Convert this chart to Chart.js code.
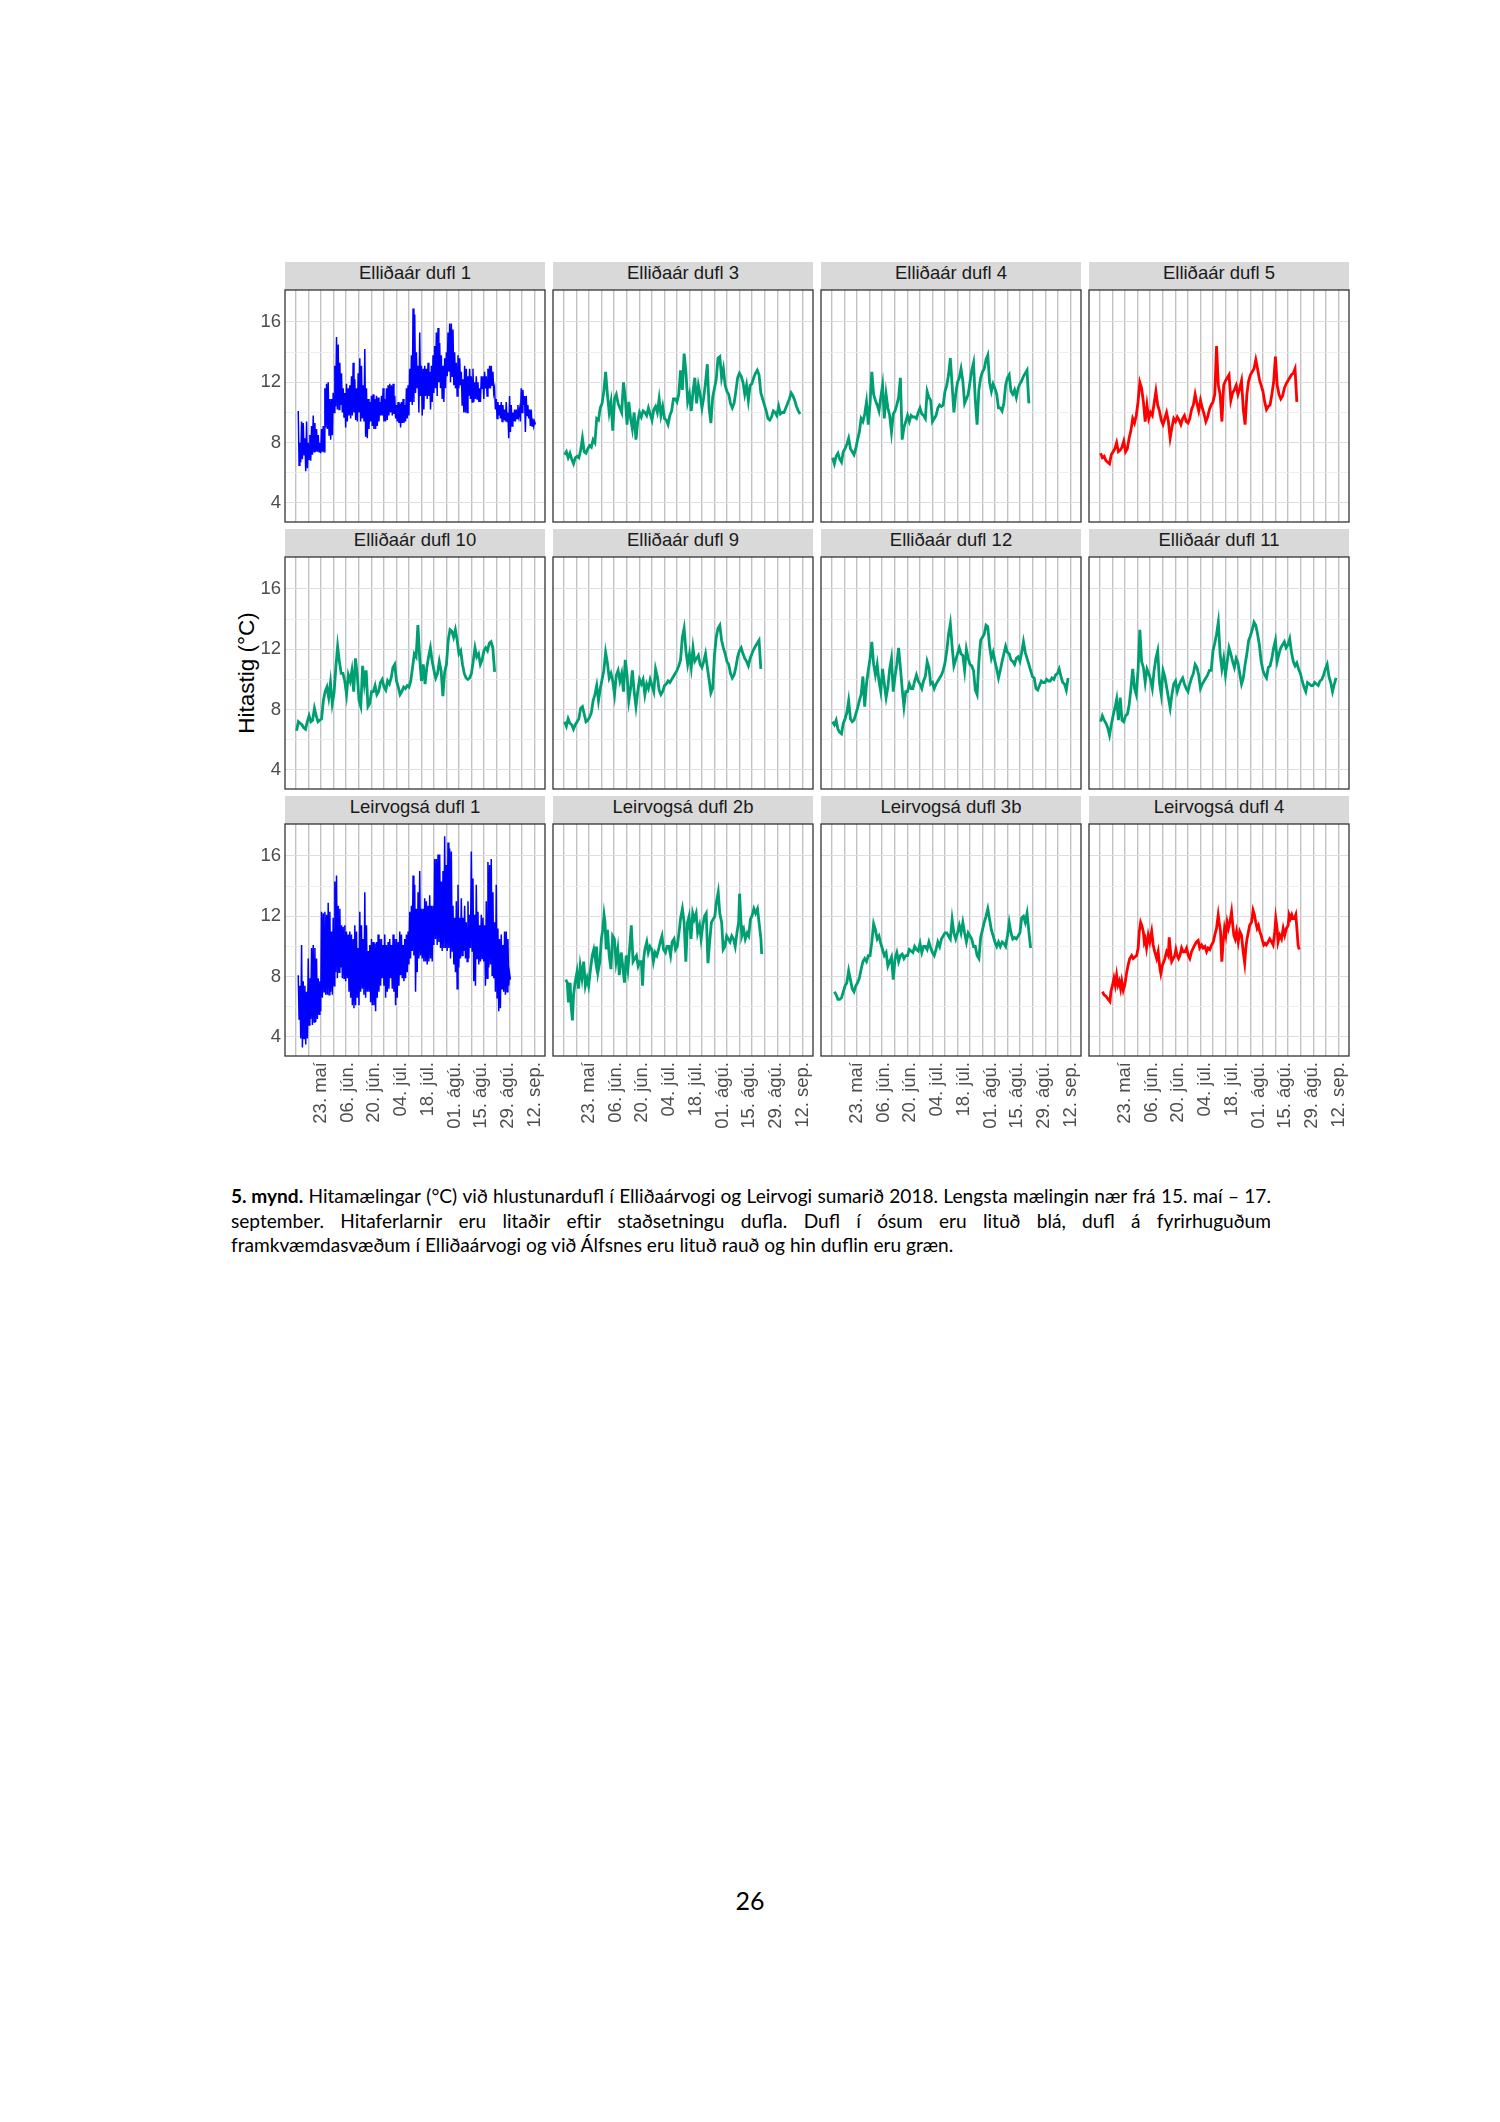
<!DOCTYPE html>
<html lang="is">
<head>
<meta charset="utf-8">
<title>Hitamælingar við hlustunardufl 2018</title>
<script src="https://cdn.jsdelivr.net/npm/chart.js@4.4.1/dist/chart.umd.min.js"></script>
<style>
  html, body { margin: 0; padding: 0; background: #fff; }
  body { width: 1500px; height: 2122px; position: relative; overflow: hidden; }
  canvas { position: absolute; }
  .strip { position: absolute; height: 28px; line-height: 34px; background: #d9d9d9; color: #1a1a1a;
           font: 18.5px "Liberation Sans", Arial, sans-serif; text-align: center; }
  .ytitle { position: absolute; left: 247px; top: 673px; transform: translate(-50%, -50%) rotate(-90deg);
            font: 22.5px "Liberation Sans", Arial, sans-serif; color: #000; white-space: nowrap; }
  .caption { position: absolute; left: 231px; top: 1184px; width: 1040px; font: 19.1px Lato, "Open Sans", sans-serif;
             line-height: 24.5px; color: #000; }
  .cl { white-space: nowrap; height: 24.5px; }
  .just { display: flex; justify-content: space-between; column-gap: 4px; }
  .pageno { position: absolute; left: 750px; top: 1900px; transform: translate(-50%, -50%);
            font: 25px Lato, "Open Sans", sans-serif; color: #000; }
</style>
</head>
<body>
<div class="ytitle">Hitastig (°C)</div>
<div class="caption">
  <div class="cl just" id="cap1"></div>
  <div class="cl just" id="cap2"></div>
  <div class="cl" id="cap3"></div>
</div>
<div class="pageno">26</div>
<script>
// day numbers count from 1. maí 2018 (day 0)
const dateTicks = [22, 36, 50, 64, 78, 92, 106, 120, 134];
const dateLabels = ['23. maí', '06. jún.', '20. jún.', '04. júl.', '18. júl.', '01. ágú.', '15. ágú.', '29. ágú.', '12. sep.'];
// vertical reference lines drawn in every panel
const lineDays = [8.8, 15.4, 22.0, 28.6, 35.2, 41.8, 48.4, 54.9, 61.5, 68.1,
  74.7, 81.3, 87.9, 94.5, 101.1, 107.6, 114.2, 120.8, 127.4, 134.0];
const tempTicks = [4, 6, 8, 10, 12, 14, 16];

const panelNames = ['Elliðaár dufl 1', 'Elliðaár dufl 3', 'Elliðaár dufl 4', 'Elliðaár dufl 5',
  'Elliðaár dufl 10', 'Elliðaár dufl 9', 'Elliðaár dufl 12', 'Elliðaár dufl 11',
  'Leirvogsá dufl 1', 'Leirvogsá dufl 2b', 'Leirvogsá dufl 3b', 'Leirvogsá dufl 4'];

// Elliðaár dufl 1: high / low envelope, one reading every 0.873 days from day 10.06
const e1Start = 10.06, e1Step = 0.873;
const e1High = [10.1, 8.0, 9.4, 9.3, 8.3, 9.4, 8.0, 8.5, 9.1, 9.8,
  9.3, 8.9, 8.5, 8.0, 8.9, 9.1, 11.6, 11.9, 12.0, 10.9,
  10.9, 11.3, 13.1, 15.0, 14.5, 13.3, 12.6, 11.6, 11.3, 11.9,
  11.6, 11.8, 12.4, 13.3, 12.2, 11.6, 12.6, 13.6, 13.1, 11.8,
  14.2, 11.6, 10.9, 10.7, 11.1, 11.2, 10.9, 11.1, 11.0, 10.7,
  11.1, 11.6, 10.9, 11.6, 11.8, 11.9, 11.8, 11.9, 11.1, 10.5,
  10.7, 10.6, 10.7, 10.9, 10.5, 11.6, 11.8, 12.9, 13.8, 16.9,
  16.5, 14.0, 13.1, 15.3, 13.1, 12.9, 13.1, 12.9, 13.3, 12.7,
  13.1, 13.8, 14.4, 15.3, 15.6, 14.6, 13.8, 13.1, 13.6, 14.0,
  15.3, 15.9, 15.9, 15.5, 14.0, 13.3, 13.8, 13.6, 12.7, 12.2,
  13.1, 12.9, 12.4, 12.9, 12.4, 12.9, 12.0, 12.4, 12.0, 11.6,
  12.4, 12.4, 12.7, 12.4, 12.9, 13.1, 13.1, 12.7, 11.6, 10.9,
  10.7, 10.5, 10.7, 10.5, 10.2, 10.7, 10.0, 11.1, 10.5, 10.0,
  10.2, 10.2, 10.5, 10.2, 11.6, 11.5, 11.1, 11.1, 10.5, 10.2,
  10.2, 9.6, 9.4];
const e1Low = [6.5, 6.7, 6.9, 7.2, 6.1, 6.3, 6.9, 6.8, 7.2, 7.4,
  7.4, 7.4, 7.4, 7.3, 7.4, 7.4, 9.0, 8.9, 8.5, 8.2,
  8.5, 10.0, 10.4, 10.2, 10.2, 10.5, 10.0, 9.7, 9.0, 9.4,
  9.8, 9.6, 9.8, 10.0, 9.5, 9.4, 10.0, 9.4, 9.6, 9.4,
  8.4, 8.3, 8.9, 9.4, 9.1, 8.9, 8.9, 9.1, 9.4, 9.8,
  9.8, 9.4, 9.4, 9.5, 9.8, 10.0, 9.8, 9.9, 9.6, 9.4,
  9.3, 9.0, 9.3, 9.3, 9.4, 9.6, 9.8, 10.7, 10.5, 10.7,
  11.3, 11.6, 10.0, 11.1, 9.8, 10.2, 11.1, 10.9, 11.1, 10.2,
  10.7, 11.3, 11.6, 11.1, 12.0, 11.6, 10.9, 10.7, 11.6, 12.4,
  12.7, 12.0, 12.4, 11.8, 11.6, 11.1, 11.6, 11.8, 10.5, 10.0,
  10.0, 10.0, 11.1, 10.9, 10.7, 10.7, 10.9, 10.9, 10.7, 10.7,
  11.6, 10.9, 11.6, 11.1, 11.6, 11.6, 11.8, 11.3, 10.2, 9.6,
  9.8, 9.6, 9.4, 9.5, 9.4, 9.4, 8.3, 8.7, 9.1, 9.4,
  9.4, 9.6, 9.8, 9.4, 10.0, 10.5, 8.7, 9.8, 9.6, 9.1,
  9.1, 9.1, 9.2];

// one reading every 0.936 days from day 9.19
const e3Temp = [7.2, 7.4, 7.0, 7.3, 6.9, 6.6, 7.0, 7.1, 7.0, 7.5,
  8.3, 7.4, 7.3, 7.6, 7.8, 7.7, 8.2, 8.0, 9.6, 9.5,
  10.3, 10.6, 11.4, 12.7, 11.2, 10.0, 10.7, 8.8, 10.9, 11.2,
  10.6, 10.3, 10.0, 12.0, 11.0, 9.2, 10.7, 9.6, 8.9, 10.0,
  8.2, 9.4, 10.0, 9.7, 10.1, 10.0, 9.8, 10.3, 9.9, 9.5,
  10.2, 10.4, 10.0, 10.9, 9.8, 10.4, 9.6, 9.5, 9.2, 9.8,
  10.1, 10.9, 10.9, 10.7, 11.2, 12.8, 11.5, 13.9, 12.7, 10.7,
  11.2, 10.1, 11.4, 12.3, 10.6, 11.8, 11.2, 10.3, 11.0, 12.0,
  13.2, 10.3, 9.3, 11.0, 11.6, 12.2, 13.6, 13.7, 12.3, 12.9,
  11.8, 11.4, 11.2, 10.6, 10.3, 10.6, 11.4, 12.3, 12.6, 12.4,
  12.0, 11.2, 11.8, 10.8, 11.8, 11.9, 12.3, 12.6, 12.8, 12.5,
  11.3, 10.9, 10.5, 10.1, 9.6, 9.5, 9.7, 10.1, 10.0, 9.8,
  10.4, 9.9, 10.0, 10.0, 10.3, 10.6, 10.9, 11.3, 11.1, 10.8,
  10.4, 10.1, 9.9];
const e4Temp = [7.0, 6.6, 7.1, 7.3, 6.9, 6.7, 7.4, 7.6, 7.9, 8.3,
  7.6, 7.4, 7.2, 7.6, 8.2, 8.7, 9.6, 9.4, 9.9, 10.7,
  9.2, 10.6, 12.7, 11.2, 10.8, 10.5, 10.1, 11.0, 11.8, 9.6,
  11.2, 10.3, 9.8, 8.7, 9.9, 10.1, 10.5, 11.0, 12.3, 8.2,
  9.0, 9.4, 9.8, 9.4, 9.8, 9.7, 9.7, 9.6, 10.0, 10.3,
  9.9, 9.8, 9.6, 11.4, 11.0, 10.8, 9.4, 9.6, 9.8, 10.3,
  10.5, 10.4, 10.5, 11.4, 11.8, 12.5, 13.6, 11.8, 10.0, 11.2,
  12.0, 12.3, 12.9, 12.1, 10.6, 10.9, 11.2, 12.0, 12.8, 13.3,
  10.8, 9.2, 11.5, 12.3, 12.7, 12.9, 13.5, 13.8, 12.0, 11.4,
  11.9, 11.6, 11.2, 10.3, 10.3, 10.1, 10.6, 11.8, 12.3, 12.5,
  11.4, 11.2, 11.5, 11.0, 11.6, 11.9, 12.1, 12.4, 12.6, 12.8,
  10.6];
const e5Temp = [7.3, 7.0, 7.1, 6.8, 6.7, 6.6, 7.2, 7.4, 7.6, 8.0,
  7.4, 7.5, 7.7, 8.1, 7.4, 7.6, 8.3, 8.8, 9.6, 9.3,
  9.8, 10.7, 12.0, 11.6, 10.7, 9.4, 10.5, 9.6, 10.0, 9.8,
  10.6, 11.4, 10.5, 10.1, 9.5, 9.2, 9.6, 10.0, 9.4, 8.3,
  9.0, 9.6, 9.4, 9.7, 9.5, 9.2, 9.6, 9.8, 9.4, 9.3,
  9.6, 10.2, 10.5, 11.2, 10.6, 10.1, 10.8, 10.3, 9.9, 9.4,
  9.7, 10.2, 10.5, 10.7, 11.2, 14.4, 11.8, 11.2, 9.4, 11.8,
  12.1, 12.3, 12.5, 10.8, 11.3, 11.5, 11.8, 11.2, 11.6, 12.1,
  10.2, 9.2, 11.2, 12.1, 12.5, 12.7, 12.9, 13.5, 12.9, 12.2,
  11.8, 11.4, 10.7, 10.2, 10.4, 10.5, 11.2, 12.0, 13.7, 11.8,
  11.2, 10.9, 11.1, 11.6, 11.9, 12.1, 12.3, 12.5, 12.6, 12.9,
  10.7];
const e10Temp = [6.6, 7.2, 7.1, 7.0, 6.8, 6.7, 7.2, 7.6, 7.2, 7.3,
  8.1, 7.6, 7.2, 7.3, 7.4, 8.6, 9.2, 9.5, 8.8, 9.8,
  8.4, 9.1, 10.8, 12.2, 11.2, 10.4, 10.4, 9.9, 9.0, 10.3,
  9.9, 10.6, 9.2, 11.4, 10.3, 8.6, 8.2, 10.9, 9.7, 10.6,
  8.2, 8.4, 9.2, 9.2, 9.6, 9.0, 9.2, 9.8, 10.0, 9.5,
  9.3, 9.9, 9.7, 10.1, 10.8, 11.0, 9.9, 9.5, 9.0, 9.2,
  9.5, 9.4, 9.6, 9.5, 9.9, 10.8, 11.7, 11.5, 13.6, 11.4,
  9.9, 11.0, 9.7, 10.8, 11.5, 12.1, 11.2, 10.6, 10.1, 10.4,
  11.2, 10.6, 8.9, 10.5, 11.0, 12.6, 13.3, 13.2, 12.8, 13.3,
  12.6, 11.7, 11.9, 11.0, 10.4, 10.1, 10.0, 10.1, 10.4, 11.2,
  12.1, 11.5, 11.7, 11.0, 11.3, 11.9, 12.1, 11.9, 12.4, 12.5,
  12.1, 10.5];
const e9Temp = [7.2, 6.9, 7.4, 7.1, 7.0, 6.7, 7.0, 7.2, 7.4, 8.1,
  8.2, 7.7, 7.2, 7.3, 7.5, 7.8, 8.6, 9.0, 9.6, 8.6,
  9.4, 10.0, 10.6, 11.8, 11.1, 10.1, 10.4, 9.9, 9.0, 10.3,
  10.6, 9.9, 10.4, 9.2, 11.3, 10.3, 8.6, 9.4, 10.6, 9.2,
  8.2, 9.2, 10.0, 9.7, 10.0, 9.0, 9.7, 9.4, 10.0, 9.6,
  9.2, 10.7, 10.2, 9.3, 9.0, 9.2, 9.6, 9.7, 9.9, 9.8,
  10.0, 10.2, 10.4, 10.6, 10.9, 11.3, 12.8, 13.4, 11.9, 11.0,
  11.7, 10.8, 12.1, 11.2, 11.4, 11.6, 11.0, 10.8, 11.2, 11.7,
  10.8, 10.0, 9.1, 9.4, 11.6, 12.8, 13.4, 13.6, 12.6, 12.1,
  11.7, 11.2, 11.0, 10.4, 10.1, 10.3, 10.8, 11.5, 11.9, 12.1,
  11.7, 11.4, 11.2, 10.9, 11.4, 11.7, 12.0, 12.2, 12.4, 12.6,
  10.7];
const e12Temp = [7.2, 7.0, 7.3, 6.7, 6.5, 6.4, 7.1, 7.4, 7.8, 8.6,
  7.4, 7.2, 7.3, 7.7, 8.1, 8.6, 9.0, 10.2, 8.2, 9.7,
  10.6, 11.4, 12.5, 11.0, 10.3, 11.0, 9.9, 9.2, 10.7, 9.7,
  8.8, 9.5, 10.7, 11.4, 9.2, 10.2, 11.0, 12.1, 10.8, 9.4,
  8.2, 9.2, 9.2, 9.7, 9.4, 9.4, 9.9, 10.3, 9.9, 9.7,
  9.4, 9.9, 10.2, 11.2, 10.8, 9.7, 9.8, 9.4, 9.7, 9.9,
  10.1, 10.3, 10.6, 11.1, 11.9, 13.0, 13.7, 12.2, 10.9, 11.3,
  11.7, 12.1, 11.7, 11.6, 10.6, 12.0, 11.4, 11.0, 10.9, 10.6,
  9.3, 9.0, 11.2, 12.6, 12.8, 13.0, 13.6, 13.5, 12.2, 11.4,
  11.8, 11.2, 10.7, 10.1, 10.6, 11.2, 11.7, 12.2, 11.8, 11.7,
  11.3, 11.2, 11.0, 11.4, 11.5, 11.2, 11.8, 12.5, 11.8, 11.4,
  11.0, 10.6, 10.2, 10.1, 9.4, 9.3, 9.6, 9.9, 9.8, 9.8,
  10.0, 9.9, 9.9, 10.1, 10.0, 10.3, 10.4, 10.7, 10.2, 9.8,
  9.7, 9.3, 10.1];
const e11Temp = [7.2, 7.6, 7.3, 7.1, 6.8, 6.3, 7.0, 7.6, 8.1, 8.7,
  7.3, 8.8, 7.3, 7.2, 7.6, 7.7, 8.3, 9.4, 10.7, 9.4,
  9.0, 10.6, 13.3, 11.2, 10.8, 9.8, 10.7, 10.4, 10.0, 9.4,
  10.6, 11.4, 11.9, 9.8, 9.0, 10.6, 10.2, 9.5, 8.8, 8.1,
  9.0, 9.7, 9.9, 9.2, 9.6, 9.9, 10.1, 9.7, 9.4, 9.2,
  9.7, 10.1, 10.4, 11.0, 10.8, 10.3, 9.4, 9.7, 9.9, 10.1,
  10.3, 10.6, 10.6, 11.9, 12.4, 13.0, 13.8, 11.7, 10.7, 11.4,
  10.3, 11.2, 12.1, 11.7, 11.2, 10.8, 11.4, 11.1, 10.4, 9.7,
  10.1, 11.0, 11.7, 12.6, 12.9, 13.3, 13.8, 13.6, 13.0, 12.3,
  11.2, 10.6, 10.3, 10.1, 10.8, 10.9, 11.4, 12.1, 12.6, 11.2,
  11.7, 12.1, 12.3, 12.5, 12.1, 12.3, 12.7, 11.8, 11.2, 10.9,
  11.1, 10.7, 10.4, 9.9, 9.5, 9.2, 9.8, 9.7, 9.6, 9.6,
  9.8, 9.7, 9.6, 9.9, 10.0, 10.3, 10.7, 11.0, 10.2, 9.8,
  9.2, 9.7, 10.1];

// Leirvogsá dufl 1: high / low envelope, one reading every 0.873 days from day 10.06
const l1Start = 10.06, l1Step = 0.873;
const l1High = [8.1, 7.4, 10.1, 7.7, 7.4, 7.0, 9.2, 7.9, 9.9, 10.1,
  9.9, 9.2, 7.9, 7.7, 12.3, 12.2, 12.3, 12.1, 12.9, 12.3,
  11.0, 11.9, 14.3, 14.7, 12.7, 12.5, 11.4, 11.3, 11.4, 11.0,
  10.8, 11.0, 10.8, 10.5, 11.4, 11.0, 9.9, 12.3, 11.4, 10.5,
  13.6, 11.4, 9.7, 10.1, 10.5, 10.3, 10.2, 10.3, 10.8, 10.5,
  10.5, 10.1, 10.8, 10.1, 10.3, 10.5, 10.1, 10.8, 10.5, 10.5,
  10.3, 11.0, 10.8, 10.1, 10.5, 10.8, 11.0, 12.3, 12.7, 14.7,
  14.1, 12.5, 13.6, 15.0, 12.5, 12.5, 13.2, 13.0, 12.7, 13.4,
  12.7, 12.7, 15.8, 15.8, 16.1, 16.1, 14.3, 15.0, 17.3, 15.4,
  16.9, 16.5, 16.3, 12.7, 11.9, 13.0, 14.1, 11.9, 13.2, 11.9,
  12.7, 11.6, 13.0, 12.1, 16.3, 14.5, 12.1, 14.1, 12.3, 11.4,
  12.1, 11.9, 11.4, 13.0, 15.6, 15.4, 15.8, 13.6, 11.6, 14.1,
  11.2, 10.5, 10.8, 10.1, 11.0, 11.0, 10.5, 8.2];
const l1Low = [5.2, 3.9, 3.3, 3.9, 3.5, 3.9, 4.8, 5.2, 4.8, 5.0,
  5.0, 5.2, 5.5, 5.7, 6.6, 7.0, 6.8, 6.8, 6.8, 7.0,
  6.8, 7.4, 8.3, 7.9, 8.3, 8.6, 7.9, 7.9, 7.7, 7.9,
  7.0, 6.6, 6.1, 5.9, 6.1, 6.6, 6.1, 7.0, 7.2, 6.8,
  6.6, 7.0, 7.0, 6.3, 6.1, 6.1, 5.7, 6.6, 7.0, 7.4,
  7.9, 7.4, 6.6, 7.0, 7.2, 7.9, 7.2, 7.0, 6.1, 6.6,
  7.4, 8.1, 7.9, 7.7, 7.9, 8.3, 8.8, 9.2, 9.7, 9.4,
  7.0, 8.3, 9.2, 9.4, 9.2, 9.0, 9.0, 8.8, 9.0, 9.2,
  9.0, 10.1, 10.5, 10.1, 10.3, 9.9, 9.7, 9.9, 9.9, 9.7,
  9.9, 9.2, 9.7, 8.8, 8.3, 7.2, 8.6, 9.2, 9.4, 9.7,
  9.2, 9.0, 9.2, 9.9, 9.7, 7.7, 7.4, 9.2, 8.8, 9.0,
  9.2, 9.0, 7.4, 7.9, 8.6, 8.8, 8.1, 7.9, 7.0, 6.6,
  5.7, 5.9, 7.2, 7.0, 6.8, 7.0, 7.4, 7.8];

// Leirvogsá dufl 2b: readings at the listed days
const l2bDay = [9.8, 10.6, 11.2, 12.1, 12.6, 13.3, 13.9, 14.7, 15.7, 16.5,
  17.4, 18.3, 19.2, 20.1, 21.0, 21.8, 22.8, 23.7, 24.5, 25.5,
  25.9, 26.7, 27.7, 28.5, 29.2, 29.9, 30.4, 31.0, 31.7, 32.6,
  33.5, 34.4, 35.3, 36.2, 37.1, 37.9, 38.9, 39.7, 40.6, 41.5,
  42.4, 43.4, 44.2, 45.1, 46.0, 46.9, 47.8, 48.7, 49.5, 50.1,
  50.7, 51.3, 52.3, 53.1, 54.0, 55.0, 55.8, 56.7, 57.6, 58.5,
  59.4, 60.3, 61.1, 62.1, 62.9, 63.9, 64.8, 65.6, 66.6, 67.4,
  68.3, 69.2, 70.1, 71.0, 71.9, 72.8, 73.7, 74.5, 75.5, 76.4,
  77.2, 78.2, 79.0, 80.0, 80.8, 81.7, 82.6, 83.5, 84.4, 85.3,
  86.2, 87.1, 88.0, 88.8, 89.8, 90.6, 91.6, 92.4, 93.3, 94.2,
  95.1, 96.0, 96.9, 97.8, 98.7, 99.6, 100.5, 101.0, 101.8, 102.2,
  103.2, 104.0, 105.0, 105.8, 106.7, 107.7, 108.5, 109.4, 110.4, 111.2,
  112.2, 112.6];
const l2bTemp = [7.8, 7.6, 6.3, 7.6, 6.1, 5.1, 6.8, 7.6, 8.3, 7.2,
  8.7, 7.9, 9.0, 7.4, 7.9, 7.4, 8.5, 9.4, 9.8, 9.0,
  10.0, 8.3, 9.0, 10.5, 11.1, 12.1, 11.6, 9.8, 11.1, 9.4,
  8.5, 10.7, 10.5, 9.0, 9.8, 8.1, 9.6, 8.7, 7.6, 9.4,
  8.5, 10.0, 11.4, 9.0, 9.2, 9.4, 8.7, 9.0, 9.0, 7.4,
  9.2, 9.8, 10.3, 9.6, 10.0, 9.8, 9.0, 9.6, 9.4, 9.8,
  10.3, 10.7, 9.8, 9.6, 10.0, 10.0, 9.4, 10.3, 10.5, 9.8,
  10.0, 10.9, 11.9, 12.5, 11.6, 9.0, 11.6, 12.0, 10.5, 12.2,
  11.8, 12.2, 10.9, 11.4, 10.5, 11.4, 12.0, 12.2, 8.9, 10.3,
  11.6, 11.8, 12.0, 12.9, 13.6, 12.2, 11.6, 9.8, 10.0, 10.7,
  10.5, 10.3, 10.7, 10.5, 10.0, 10.9, 11.6, 13.5, 11.4, 10.7,
  11.1, 10.5, 10.9, 10.7, 11.8, 12.1, 12.5, 12.2, 12.5, 11.6,
  10.5, 9.5];

// Leirvogsá dufl 3b: one reading every 0.936 days from day 10.13
const l3bTemp = [7.0, 6.8, 6.5, 6.5, 6.6, 7.0, 7.4, 7.6, 8.4,
  7.8, 7.2, 7.0, 7.4, 7.6, 7.9, 8.5, 9.0, 9.2, 9.0,
  9.4, 9.4, 10.3, 11.5, 11.1, 10.5, 10.7, 10.2, 9.8, 9.4,
  9.6, 8.7, 9.0, 9.3, 7.8, 9.2, 9.6, 9.0, 9.4, 9.5,
  9.2, 9.4, 9.4, 9.8, 9.7, 9.6, 10.0, 9.8, 9.7, 10.2,
  9.6, 10.0, 10.0, 9.8, 10.3, 9.9, 9.6, 9.4, 9.8, 10.3,
  10.0, 10.5, 10.7, 10.9, 10.9, 10.7, 10.5, 11.8, 10.9, 10.5,
  10.9, 11.4, 10.9, 11.6, 10.9, 10.3, 10.9, 10.7, 10.5, 10.0,
  10.0, 9.4, 9.2, 10.6, 11.1, 11.6, 12.0, 12.5, 11.8, 11.1,
  10.7, 10.3, 10.0, 10.3, 10.0, 10.3, 10.2, 10.0, 10.7, 11.6,
  10.9, 10.5, 10.6, 10.5, 10.7, 10.9, 11.9, 12.0, 11.6, 12.2,
  11.0, 9.9];

// Leirvogsá dufl 4: readings at the listed days
const l4Day = [10.2, 11.0, 12.0, 13.2, 14.1, 14.6, 15.5, 16.2, 16.9, 17.6,
  18.3, 19.0, 19.7, 20.3, 21.1, 21.9, 22.9, 23.7, 24.5, 25.5,
  26.3, 27.2, 28.1, 28.9, 29.5, 30.2, 30.8, 31.6, 32.1, 32.6,
  33.3, 34.2, 35.0, 36.0, 36.8, 37.6, 38.6, 39.4, 40.3, 40.8,
  41.7, 42.4, 42.9, 43.8, 44.7, 45.2, 45.9, 46.5, 47.3, 48.1,
  48.7, 49.4, 50.1, 50.8, 51.7, 52.5, 53.4, 54.3, 55.2, 56.0,
  56.9, 57.8, 58.6, 59.5, 60.4, 61.2, 62.2, 63.0, 63.9, 64.8,
  65.6, 66.5, 67.4, 68.3, 69.1, 70.0, 70.9, 71.4, 72.1, 72.8,
  73.5, 74.2, 74.9, 75.6, 76.3, 77.0, 77.9, 78.4, 79.1, 79.8,
  80.5, 81.4, 82.2, 83.1, 84.0, 84.8, 85.4, 86.0, 86.8, 87.4,
  88.4, 89.2, 89.9, 90.6, 91.3, 92.0, 92.7, 93.4, 94.1, 94.8,
  95.5, 96.2, 97.1, 97.9, 98.9, 99.7, 100.6, 101.1, 101.8, 102.3,
  103.2, 104.1, 105.0, 105.8, 106.7, 107.6, 108.1, 108.8, 109.5, 110.2,
  110.9, 111.6, 112.3, 112.8, 113.4];
const l4Temp = [7.0, 6.8, 6.7, 6.5, 6.35, 7.0, 7.45, 7.9, 7.45, 8.1,
  7.45, 7.7, 7.2, 7.7, 7.1, 7.45, 8.3, 8.8, 9.2, 9.4,
  9.2, 9.3, 9.4, 9.9, 11.0, 11.6, 11.4, 11.0, 10.3, 10.5,
  9.9, 10.75, 10.3, 11.0, 10.1, 9.65, 9.2, 9.65, 8.55, 8.2,
  8.8, 9.0, 9.2, 9.65, 9.4, 10.6, 9.65, 9.0, 9.2, 9.4,
  9.8, 9.4, 9.2, 9.4, 9.9, 9.65, 9.65, 9.9, 9.4, 9.2,
  9.65, 9.9, 10.1, 10.3, 10.4, 9.9, 10.1, 9.9, 10.0, 9.65,
  9.9, 9.8, 10.1, 10.3, 10.75, 11.2, 12.1, 11.6, 11.0, 9.0,
  10.3, 11.2, 10.75, 11.6, 11.2, 11.6, 12.3, 11.6, 10.75, 10.5,
  11.0, 10.3, 11.0, 10.75, 9.65, 8.9, 9.9, 10.5, 11.0, 11.4,
  11.6, 12.4, 12.1, 11.6, 11.2, 11.4, 11.0, 10.75, 10.4, 10.1,
  10.2, 10.1, 10.3, 10.5, 10.3, 10.1, 11.0, 11.85, 11.2, 10.3,
  10.75, 10.5, 11.2, 10.75, 11.2, 11.4, 12.1, 11.85, 12.1, 11.85,
  11.85, 12.1, 11.0, 10.1, 9.8];

const BLUE = '#0000ff', GREEN = '#009e73', RED = '#ff0000';
const X_MIN = 3.11, X_MAX = 139.52, Y_MIN = 2.74, Y_MAX = 18.12;
const PW = 260, PH = 232;
const READ_STEP = 0.936;

function regular(start, step, temps) {
  return temps.map((t, i) => ({ x: start + i * step, y: t }));
}
function paired(days, temps) {
  return days.map((d, i) => ({ x: d, y: temps[i] }));
}
function band(start, step, high, low) {
  const pts = [];
  high.forEach((h, i) => {
    const d = start + i * step;
    pts.push({ x: d, y: h });
    pts.push({ x: d + step / 2, y: low[i] });
  });
  return pts;
}

const series = [
  { color: BLUE, width: 1.5, data: band(e1Start, e1Step, e1High, e1Low) },
  { color: GREEN, width: 2.8, data: regular(9.19, READ_STEP, e3Temp) },
  { color: GREEN, width: 2.8, data: regular(9.19, READ_STEP, e4Temp) },
  { color: RED, width: 2.8, data: regular(9.19, READ_STEP, e5Temp) },
  { color: GREEN, width: 2.8, data: regular(9.19, READ_STEP, e10Temp) },
  { color: GREEN, width: 2.8, data: regular(9.19, READ_STEP, e9Temp) },
  { color: GREEN, width: 2.8, data: regular(9.19, READ_STEP, e12Temp) },
  { color: GREEN, width: 2.8, data: regular(9.19, READ_STEP, e11Temp) },
  { color: BLUE, width: 1.5, data: band(l1Start, l1Step, l1High, l1Low) },
  { color: GREEN, width: 2.8, data: paired(l2bDay, l2bTemp) },
  { color: GREEN, width: 2.8, data: regular(10.13, READ_STEP, l3bTemp) },
  { color: RED, width: 2.8, data: paired(l4Day, l4Temp) }
];

// x ticks: reference lines plus the date labels
const xTickValues = Array.from(new Set(lineDays.concat(dateTicks))).sort((a, b) => a - b);

// frame round each panel
const panelFrame = {
  id: 'panelFrame',
  afterDraw(chart) {
    const { ctx, chartArea: a } = chart;
    ctx.save();
    ctx.strokeStyle = '#333333';
    ctx.lineWidth = 1.3;
    ctx.strokeRect(a.left, a.top, a.right - a.left, a.bottom - a.top);
    ctx.restore();
  }
};

const axisFont = { family: "'Liberation Sans', Arial, sans-serif", size: 18.5 };

series.forEach((s, i) => {
  const row = Math.floor(i / 4), col = i % 4;
  const plotLeft = 285 + 268 * col, plotTop = 290 + 267 * row;
  const padL = col === 0 ? 50 : 3, padB = row === 2 ? 90 : 3, padT = 3, padR = 3;

  const strip = document.createElement('div');
  strip.className = 'strip';
  strip.style.left = plotLeft + 'px';
  strip.style.top = (plotTop - 28) + 'px';
  strip.style.width = PW + 'px';
  strip.textContent = panelNames[i];
  document.body.appendChild(strip);

  const cv = document.createElement('canvas');
  cv.width = PW + padL + padR;
  cv.height = PH + padT + padB;
  cv.style.width = cv.width + 'px';
  cv.style.height = cv.height + 'px';
  cv.style.left = (plotLeft - padL) + 'px';
  cv.style.top = (plotTop - padT) + 'px';
  document.body.appendChild(cv);

  new Chart(cv, {
    type: 'line',
    data: {
      datasets: [{
        label: panelNames[i],
        data: s.data,
        borderColor: s.color,
        borderWidth: s.width,
        pointRadius: 0,
        tension: 0,
        fill: false
      }]
    },
    options: {
      responsive: false,
      animation: false,
      devicePixelRatio: 1,
      parsing: false,
      events: [],
      layout: { padding: { left: col === 0 ? 0 : padL, right: padR, top: padT, bottom: row === 2 ? 0 : padB } },
      plugins: { legend: { display: false }, tooltip: { enabled: false }, title: { display: false } },
      scales: {
        x: {
          type: 'linear',
          min: X_MIN,
          max: X_MAX,
          afterBuildTicks: sc => { sc.ticks = xTickValues.map(v => ({ value: v })); },
          afterFit: sc => { sc.height = row === 2 ? padB : 0; sc.paddingLeft = 0; sc.paddingRight = 0; },
          grid: {
            color: c => (c.tick && lineDays.includes(c.tick.value) ? '#c2c2c2' : 'rgba(0,0,0,0)'),
            lineWidth: 1.4,
            drawTicks: false
          },
          border: { display: false },
          ticks: {
            display: row === 2,
            autoSkip: false,
            minRotation: 90,
            maxRotation: 90,
            padding: 6,
            color: '#4d4d4d',
            font: axisFont,
            callback: v => { const k = dateTicks.indexOf(v); return k < 0 ? '' : dateLabels[k]; }
          }
        },
        y: {
          type: 'linear',
          min: Y_MIN,
          max: Y_MAX,
          afterBuildTicks: sc => { sc.ticks = tempTicks.map(v => ({ value: v })); },
          afterFit: sc => { sc.width = col === 0 ? padL : 0; sc.paddingTop = 0; sc.paddingBottom = 0; },
          grid: {
            color: c => (c.tick && c.tick.value % 4 === 0 ? '#dedede' : '#ebebeb'),
            lineWidth: c => (c.tick && c.tick.value % 4 === 0 ? 1.1 : 0.8),
            drawTicks: false
          },
          border: { display: false },
          ticks: {
            display: col === 0,
            padding: 4,
            color: '#4d4d4d',
            font: axisFont,
            callback: v => (v % 4 === 0 ? String(v) : '')
          }
        }
      }
    },
    plugins: [panelFrame]
  });
});

// caption
const captionLines = [
  'Hitamælingar (°C) við hlustunardufl í Elliðaárvogi og Leirvogi sumarið 2018. Lengsta mælingin nær frá 15. maí – 17.',
  'september. Hitaferlarnir eru litaðir eftir staðsetningu dufla. Dufl í ósum eru lituð blá, dufl á fyrirhuguðum',
  'framkvæmdasvæðum í Elliðaárvogi og við Álfsnes eru lituð rauð og hin duflin eru græn.'
];
function fillJustified(el, words, lead) {
  if (lead) {
    const b = document.createElement('b');
    b.textContent = lead;
    el.appendChild(b);
  }
  words.forEach(w => {
    const sp = document.createElement('span');
    sp.textContent = w;
    el.appendChild(sp);
  });
}
fillJustified(document.getElementById('cap1'), captionLines[0].split(' '), '5. mynd.');
fillJustified(document.getElementById('cap2'), captionLines[1].split(' '), null);
document.getElementById('cap3').textContent = captionLines[2];
</script>
</body>
</html>
